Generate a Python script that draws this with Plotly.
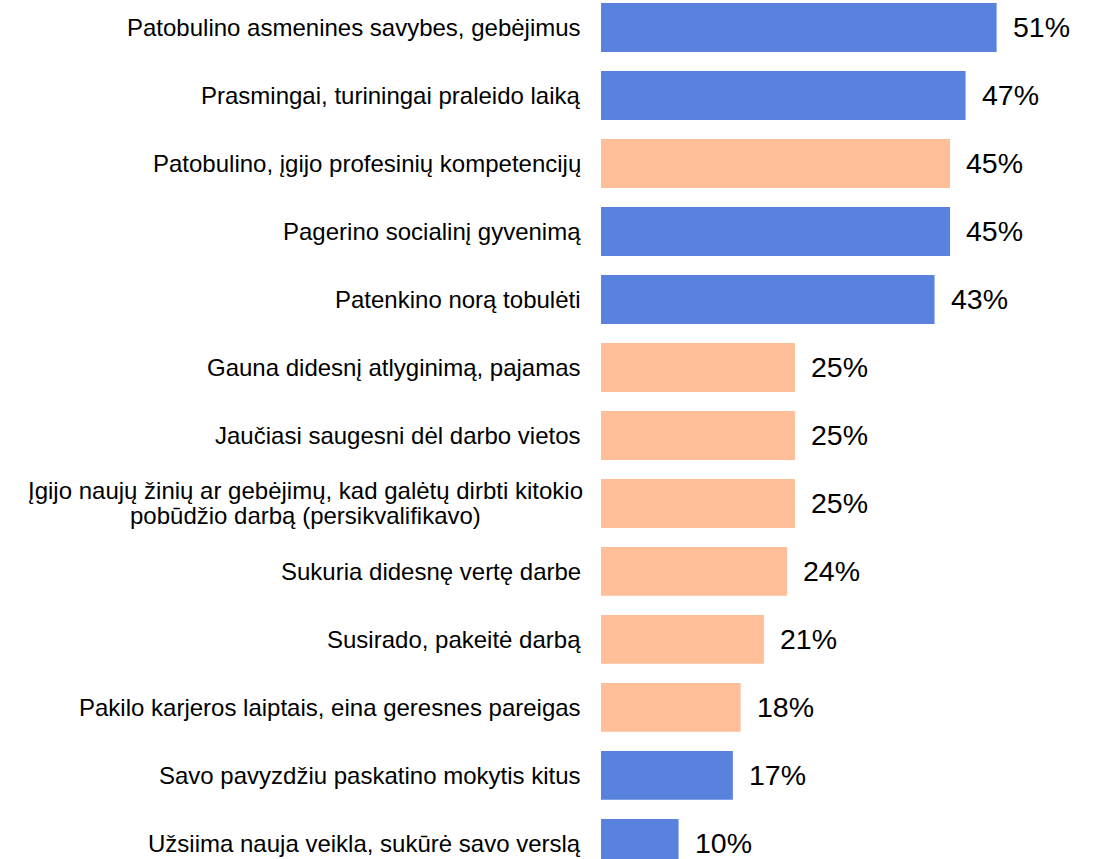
import plotly.graph_objects as go

# kategorijos ir reikšmės (%)
categories = [
    "Patobulino asmenines savybes, gebėjimus",
    "Prasmingai, turiningai praleido laiką",
    "Patobulino, įgijo profesinių kompetencijų",
    "Pagerino socialinį gyvenimą",
    "Patenkino norą tobulėti",
    "Gauna didesnį atlyginimą, pajamas",
    "Jaučiasi saugesni dėl darbo vietos",
    "Įgijo naujų žinių ar gebėjimų, kad galėtų dirbti kitokio<br>pobūdžio darbą (persikvalifikavo)",
    "Sukuria didesnę vertę darbe",
    "Susirado, pakeitė darbą",
    "Pakilo karjeros laiptais, eina geresnes pareigas",
    "Savo pavyzdžiu paskatino mokytis kitus",
    "Užsiima nauja veikla, sukūrė savo verslą",
]
values = [51, 47, 45, 45, 43, 25, 25, 25, 24, 21, 18, 17, 10]
groups = ["a", "a", "b", "a", "a", "b", "b", "b", "b", "b", "b", "a", "a"]

BLUE = "#5981DE"
PEACH = "#FFBE98"
colors = [BLUE if g == "a" else PEACH for g in groups]

idx = list(range(len(categories)))

fig = go.Figure()
fig.add_trace(go.Bar(
    x=values,
    y=idx,
    orientation="h",
    marker=dict(color=colors, line=dict(width=0)),
    width=0.72,
    hoverinfo="skip",
))

LABEL_GAP = 18
LINE_H = 25      # tankesnis eilučių tarpas nei plotly numatytasis
WRAP_W = 555     # ilgiausios eilutės plotis (px), centravimui
annotations = []
for i, (cat, v) in enumerate(zip(categories, values)):
    lines = cat.split("<br>")
    n = len(lines)
    for j, line in enumerate(lines):
        if n == 1:
            anchor, shift = "right", -LABEL_GAP
        else:
            anchor, shift = "center", -LABEL_GAP - WRAP_W / 2
        annotations.append(dict(
            x=0, y=i, xref="x", yref="y",
            text=line, showarrow=False,
            xanchor=anchor, yanchor="middle",
            xshift=shift,
            yshift=((n - 1) / 2 - j) * LINE_H,
            font=dict(size=24, color="#000000"),
        ))
    annotations.append(dict(
        x=v, y=i, xref="x", yref="y",
        text=f"{v}%", showarrow=False,
        xanchor="left", yanchor="middle",
        xshift=14,
        font=dict(size=28.5, color="#000000"),
    ))

fig.update_layout(
    width=1099,
    height=859,
    margin=dict(l=601, r=0, t=0, b=0),
    paper_bgcolor="white",
    plot_bgcolor="white",
    font=dict(family="Liberation Sans, Arial, sans-serif", color="#000000"),
    showlegend=False,
    annotations=annotations,
    xaxis=dict(range=[0, 64.2], visible=False, fixedrange=True),
    yaxis=dict(range=[12.23, -0.404], visible=False, fixedrange=True),
)

fig.write_html(
    "out.html",
    config={"displayModeBar": False},
    post_script="document.body.style.margin='0';",
)
